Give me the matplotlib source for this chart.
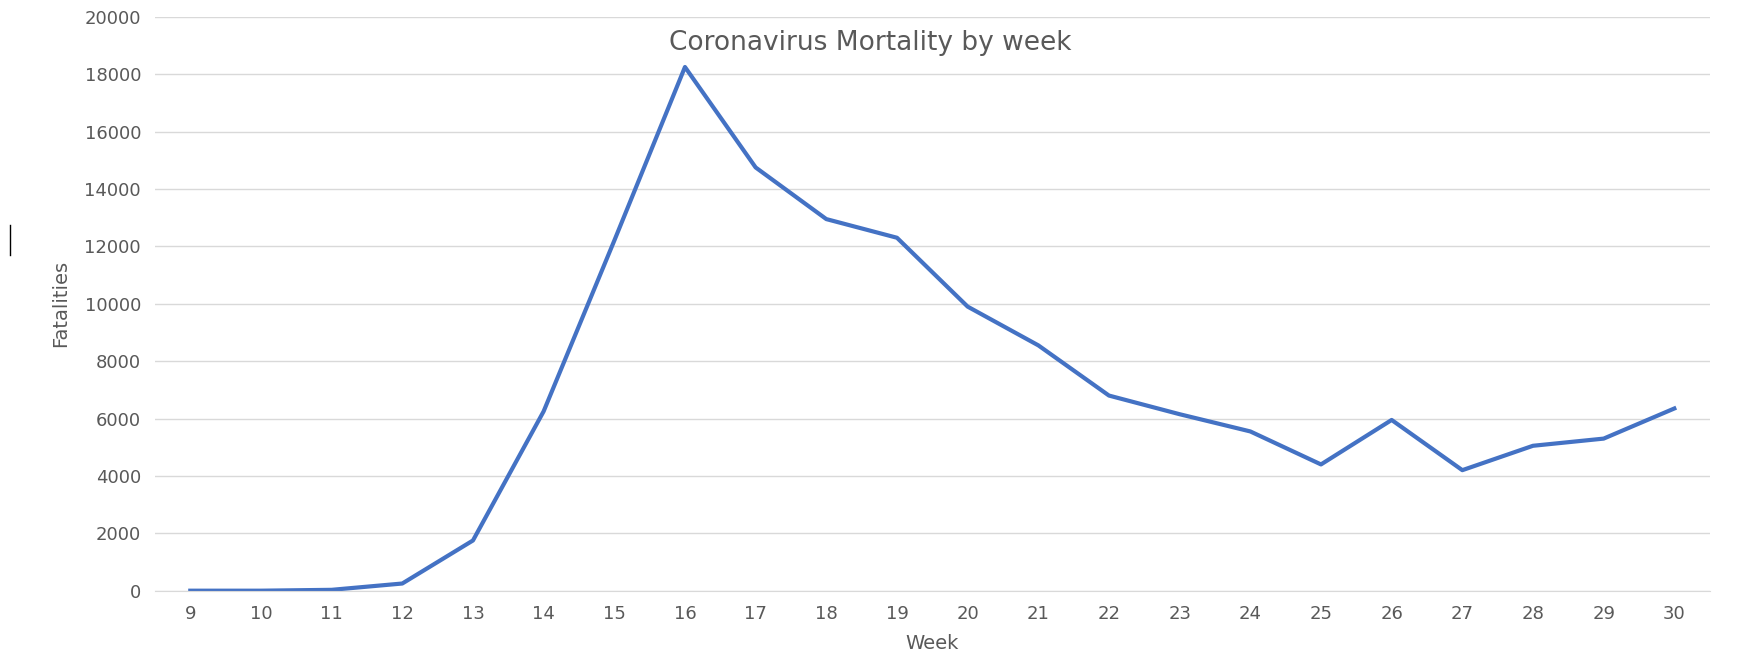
import matplotlib.pyplot as plt
from matplotlib.lines import Line2D

weeks = [str(w) for w in range(9, 31)]
fatalities = [0, 0, 30, 250, 1750, 6250, 12200, 18250, 14750, 12950, 12300,
              9900, 8550, 6800, 6150, 5550, 4400, 5950, 4200, 5050, 5300, 6350]

fig = plt.figure(figsize=(17.41, 6.72), dpi=100)
ax = fig.add_axes([0.089, 0.121, 0.893, 0.854])
x = range(len(weeks))
ax.plot(x, fatalities, color="#4472C4", linewidth=3)
ax.set_xlim(-0.5, len(weeks) - 0.5)
ax.set_ylim(0, 20000)
ax.set_yticks(range(0, 20001, 2000))
ax.set_xticks(list(x))
ax.set_xticklabels(weeks)
ax.grid(axis="y", color="#D9D9D9", linewidth=1)
ax.set_axisbelow(True)
for s in ["top", "left", "right"]:
    ax.spines[s].set_visible(False)
ax.spines["bottom"].set_color("#D9D9D9")
ax.tick_params(axis="both", length=0, labelsize=13, colors="#595959", pad=10)
ax.set_xlabel("Week", fontsize=14, color="#595959", labelpad=8)
ax.set_ylabel("Fatalities", fontsize=14, color="#595959", labelpad=10)
fig.text(0.5, 0.955, "Coronavirus Mortality by week",
         ha="center", va="top", fontsize=19, color="#595959")

# stray mark at left edge of the screenshot
fig.add_artist(Line2D([0.0055, 0.0055], [0.62, 0.665], color="black", linewidth=1))

fig.savefig("out.png", dpi=100)
